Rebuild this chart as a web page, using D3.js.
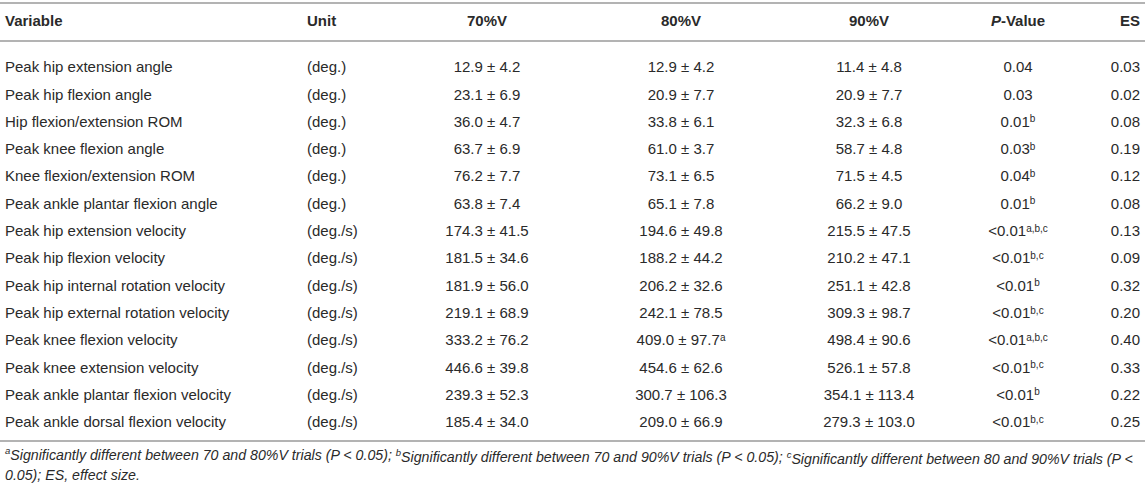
<!DOCTYPE html>
<html>
<head>
    <title>Kinematics table</title>
    <script src="https://d3js.org/d3.v7.min.js"></script>
    <style>
        body { margin: 0; background: #fff; }
        text { font-family: "Liberation Sans", Arial, sans-serif; fill: #2a2a2a; }
    </style>
</head>
<body>
    <svg id="table"></svg>

    <script>
        const variables = [
            "Peak hip extension angle", "Peak hip flexion angle", "Hip flexion/extension ROM",
            "Peak knee flexion angle", "Knee flexion/extension ROM", "Peak ankle plantar flexion angle",
            "Peak hip extension velocity", "Peak hip flexion velocity", "Peak hip internal rotation velocity",
            "Peak hip external rotation velocity", "Peak knee flexion velocity", "Peak knee extension velocity",
            "Peak ankle plantar flexion velocity", "Peak ankle dorsal flexion velocity"
        ];
        const units = ["(deg.)", "(deg.)", "(deg.)", "(deg.)", "(deg.)", "(deg.)",
            "(deg./s)", "(deg./s)", "(deg./s)", "(deg./s)", "(deg./s)", "(deg./s)", "(deg./s)", "(deg./s)"];

        // [mean, sd, superscript]
        const v70 = [[12.9, 4.2], [23.1, 6.9], [36.0, 4.7], [63.7, 6.9], [76.2, 7.7], [63.8, 7.4],
            [174.3, 41.5], [181.5, 34.6], [181.9, 56.0], [219.1, 68.9], [333.2, 76.2], [446.6, 39.8],
            [239.3, 52.3], [185.4, 34.0]];
        const v80 = [[12.9, 4.2], [20.9, 7.7], [33.8, 6.1], [61.0, 3.7], [73.1, 6.5], [65.1, 7.8],
            [194.6, 49.8], [188.2, 44.2], [206.2, 32.6], [242.1, 78.5], [409.0, 97.7, "a"], [454.6, 62.6],
            [300.7, 106.3], [209.0, 66.9]];
        const v90 = [[11.4, 4.8], [20.9, 7.7], [32.3, 6.8], [58.7, 4.8], [71.5, 4.5], [66.2, 9.0],
            [215.5, 47.5], [210.2, 47.1], [251.1, 42.8], [309.3, 98.7], [498.4, 90.6], [526.1, 57.8],
            [354.1, 113.4], [279.3, 103.0]];
        const pValues = ["0.04", "0.03", "0.01", "0.03", "0.04", "0.01",
            "<0.01", "<0.01", "<0.01", "<0.01", "<0.01", "<0.01", "<0.01", "<0.01"];
        const pSup = ["", "", "b", "b", "b", "b", "a,b,c", "b,c", "b", "b,c", "a,b,c", "b,c", "b", "b,c"];
        const es = [0.03, 0.02, 0.08, 0.19, 0.12, 0.08, 0.13, 0.09, 0.32, 0.20, 0.40, 0.33, 0.22, 0.25];

        const footnote = [
            [["a", true], ["Significantly different between 70 and 80%V trials (P < 0.05); ", false],
             ["b", true], ["Significantly different between 70 and 90%V trials (P < 0.05); ", false],
             ["c", true], ["Significantly different between 80 and 90%V trials (P <", false]],
            [["0.05); ES, effect size.", false]]
        ];

        const width = 1145;
        const height = 483;
        const fs = 15;

        const svg = d3.select("#table")
            .attr("width", width)
            .attr("height", height);

        const y = d3.scaleLinear()
            .domain([0, variables.length - 1])
            .range([67, 422]);

        const fmt = d3.format(".1f");
        const cell = v => `${fmt(v[0])} ± ${fmt(v[1])}`;

        const columns = [
            { head: "Variable", x: 5, anchor: "start", values: variables },
            { head: "Unit", x: 307, anchor: "start", values: units },
            { head: "70%V", x: 487, anchor: "middle", values: v70.map(cell), sup: v70.map(d => d[2] || "") },
            { head: "80%V", x: 681, anchor: "middle", values: v80.map(cell), sup: v80.map(d => d[2] || "") },
            { head: "90%V", x: 869, anchor: "middle", values: v90.map(cell), sup: v90.map(d => d[2] || "") },
            { head: "P-Value", x: 1018, anchor: "middle", values: pValues, sup: pSup },
            { head: "ES", x: 1140, anchor: "end", values: es.map(d3.format(".2f")) }
        ];

        // rules
        const rules = [3, 41, 441];
        svg.selectAll("line.rule")
            .data(rules)
            .enter()
            .append("line")
            .attr("x1", 0)
            .attr("x2", width)
            .attr("y1", d => d)
            .attr("y2", d => d)
            .attr("stroke", "#b3b3b3")
            .attr("stroke-width", 2);

        // header
        const head = svg.selectAll("text.head")
            .data(columns)
            .enter()
            .append("text")
            .attr("class", "head")
            .attr("x", d => d.x)
            .attr("y", 21)
            .attr("dy", "0.35em")
            .attr("text-anchor", d => d.anchor)
            .attr("font-size", fs)
            .attr("font-weight", "bold");
        head.each(function (d) {
            const t = d3.select(this);
            if (d.head === "P-Value") {
                t.append("tspan").attr("font-style", "italic").text("P");
                t.append("tspan").text("-Value");
            } else {
                t.text(d.head);
            }
        });

        // body
        columns.forEach(col => {
            const rows = col.values.map((v, i) => ({ v, i, sup: col.sup ? col.sup[i] : "" }));
            const txt = svg.selectAll(null)
                .data(rows)
                .enter()
                .append("text")
                .attr("x", col.x)
                .attr("y", d => y(d.i))
                .attr("dy", "0.35em")
                .attr("text-anchor", col.anchor)
                .attr("font-size", fs);
            txt.append("tspan").text(d => d.v);
            txt.filter(d => d.sup)
                .append("tspan")
                .attr("dy", "-0.45em")
                .attr("font-size", 10)
                .text(d => d.sup);
        });

        // footnote
        footnote.forEach((line, li) => {
            const t = svg.append("text")
                .attr("x", 5)
                .attr("y", 458 + li * 17.5)
                .attr("dy", "0.35em")
                .attr("font-size", 14.2)
                .attr("font-style", "italic");
            line.forEach(([s, isSup]) => {
                if (isSup) {
                    t.append("tspan").attr("dy", "-0.4em").attr("font-size", 9.5).text(s);
                } else {
                    const sp = t.append("tspan").text(s);
                    if (t.node().childNodes.length > 1) sp.attr("dy", "0.4em");
                }
            });
        });
    </script>
</body>
</html>
